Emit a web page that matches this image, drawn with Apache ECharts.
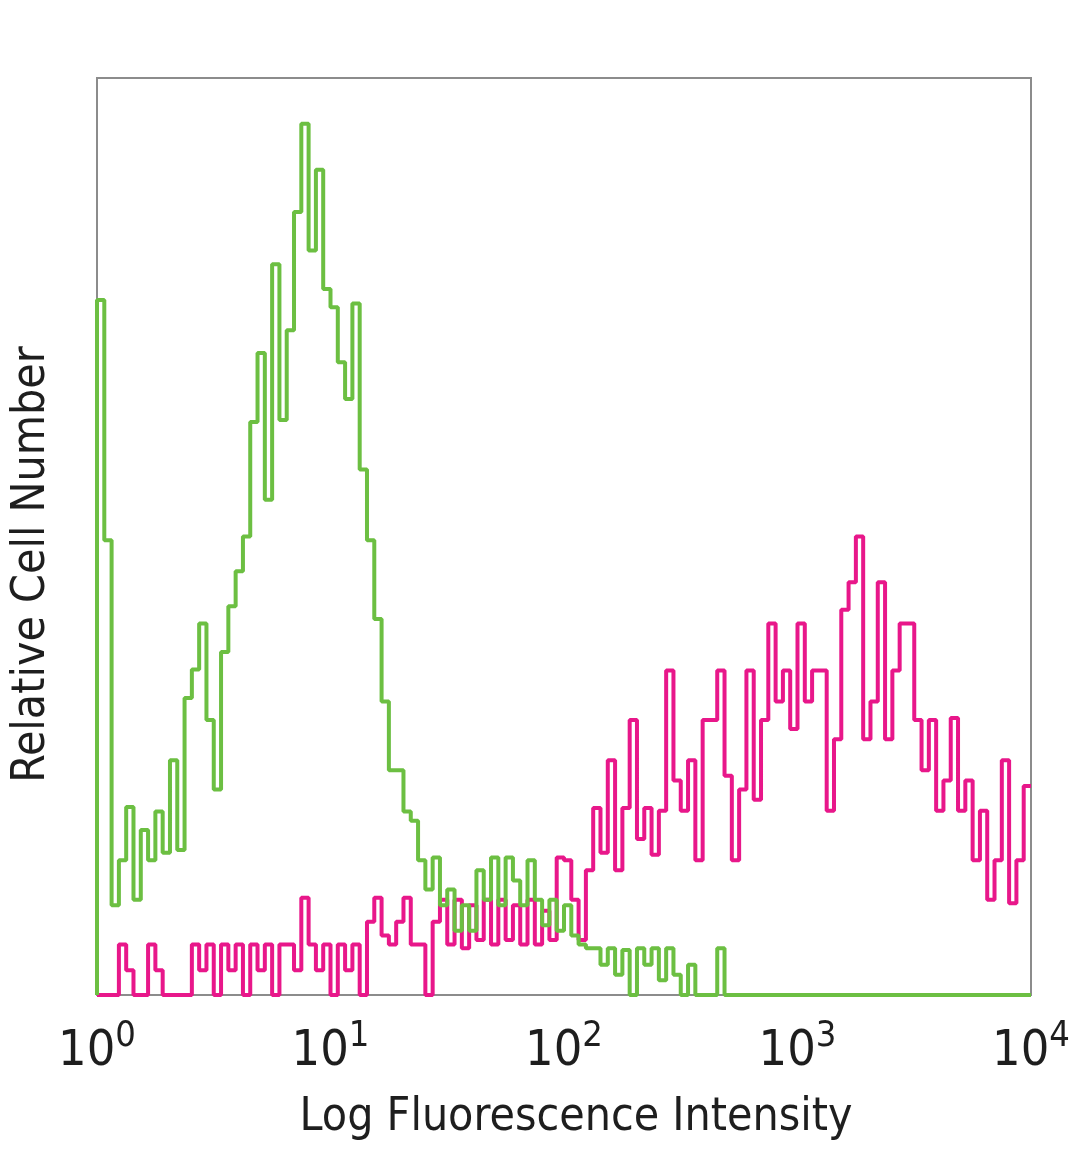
<!DOCTYPE html>
<html>
<head>
<meta charset="utf-8">
<script src="https://cdn.jsdelivr.net/npm/echarts@6/dist/echarts.min.js"></script>
<style>
  html, body { margin: 0; padding: 0; background: #ffffff; }
  #chart { width: 1080px; height: 1169px; }
</style>
</head>
<body>
<div id="chart"></div>
<script>
// Histogram channels: 128 bins spread over 4 log decades (32 bins per decade)
const binsPerDecade = 32;
const decadeExponents = [0, 1, 2, 3, 4];

// Relative cell number per channel (0-100 scale of the plot height)
const greenCounts = [
  75.8, 49.6, 9.8, 14.7, 20.5, 10.4, 18, 14.7, 20, 15.5,
  25.6, 15.8, 32.4, 35.5, 40.5, 30, 22.4, 37.4, 42.4, 46.2,
  50, 62.5, 70, 54, 79.7, 62.7, 72.5, 85.4, 95, 81.2,
  90, 77, 75, 69, 65, 75.4, 57.3, 49.6, 41, 32,
  24.5, 24.5, 20, 19, 14.7, 11.5, 15, 9.8, 11.5, 7,
  9.8, 7, 13.6, 10.4, 15, 9.8, 15, 12.5, 9.8, 14.7,
  10.4, 7.6, 10.4, 7, 9.8, 6.5, 5.5, 5.1, 5.1, 3.3,
  5.1, 2.2, 4.9, 0, 5.1, 3.3, 5.1, 1.6, 5.1, 2.2,
  0, 3.3, 0, 0, 0, 5.1, 0, 0, 0, 0,
  0, 0, 0, 0, 0, 0, 0, 0, 0, 0,
  0, 0, 0, 0, 0, 0, 0, 0, 0, 0,
  0, 0, 0, 0, 0, 0, 0, 0, 0, 0,
  0, 0, 0, 0, 0, 0, 0, 0
];

const magentaCounts = [
  0, 0, 0, 5.5, 2.7, 0, 0, 5.5, 2.7, 0,
  0, 0, 0, 5.5, 2.7, 5.5, 0, 5.5, 2.7, 5.5,
  0, 5.5, 2.7, 5.5, 0, 5.5, 5.5, 2.7, 10.6, 5.5,
  2.7, 5.5, 0, 5.5, 2.7, 5.5, 0, 8, 10.6, 6.5,
  5.5, 8, 10.6, 5.5, 5.5, 0, 8, 10.4, 5.5, 10.4,
  5.1, 9.8, 6, 10.4, 5.5, 10.4, 6, 9.8, 5.5, 10.4,
  5.5, 9.2, 6, 15, 14.7, 10.4, 6, 13.6, 20.4, 15.5,
  25.6, 13.6, 20.4, 30, 17, 20.4, 15.3, 20.1, 35.4, 23.4,
  20.1, 25.6, 14.7, 30, 30, 35.4, 23.9, 14.7, 22.4, 35.4,
  21.3, 30, 40.5, 32, 35.4, 29, 40.5, 32, 35.4, 35.4,
  20.1, 27.9, 42, 45, 50, 27.9, 32, 45, 27.9, 35.4,
  40.5, 40.5, 30, 24.5, 30, 20.1, 23.4, 30.2, 20.1, 23.4,
  14.7, 20.1, 10.4, 14.7, 25.6, 10, 14.7, 22.8
];

const xTitle = 'Log Fluorescence Intensity';
const yTitle = 'Relative Cell Number';

function toSteps(counts) {
  const pts = [[1, 0]];
  counts.forEach((v, i) => pts.push([Math.pow(10, i / binsPerDecade), v]));
  pts.push([Math.pow(10, counts.length / binsPerDecade), counts[counts.length - 1]]);
  return pts;
}

const fontFam = "'Liberation Sans Narrow', 'DejaVu Sans Condensed', 'Noto Sans', sans-serif";
const chart = echarts.init(document.getElementById('chart'), null, { renderer: 'canvas' });

chart.setOption({
  backgroundColor: '#ffffff',
  animation: false,
  grid: {
    left: 97, right: 49, top: 78, bottom: 174,
    outerBoundsMode: 'none',
    containLabel: false,
    show: true, borderColor: '#8c8c8c', borderWidth: 2, backgroundColor: 'transparent'
  },
  xAxis: {
    type: 'log',
    logBase: 10,
    min: Math.pow(10, decadeExponents[0]),
    max: Math.pow(10, decadeExponents[decadeExponents.length - 1]),
    splitNumber: 4,
    axisLine: { show: false },
    axisTick: { show: false },
    splitLine: { show: false },
    minorTick: { show: false },
    axisLabel: {
      show: true,
      showMinLabel: true,
      showMaxLabel: true,
      margin: 24,
      formatter: function (val) {
        const e = Math.round(Math.log10(val));
        return '{b|10}{s|' + e + '}';
      },
      rich: {
        b: { fontSize: 50, fontFamily: fontFam, color: '#1e1e1e' },
        s: { fontSize: 36, fontFamily: fontFam, color: '#1e1e1e', padding: [0, 0, 30, 0] }
      }
    },
    name: xTitle,
    nameLocation: 'middle',
    nameGap: 100,
    nameTextStyle: { fontSize: 46, fontFamily: fontFam, color: '#1e1e1e', padding: [0, 0, 0, 24] }
  },
  yAxis: {
    type: 'value',
    min: 0,
    max: 100,
    axisLine: { show: false },
    axisTick: { show: false },
    splitLine: { show: false },
    axisLabel: { show: false },
    name: yTitle,
    nameLocation: 'middle',
    nameRotate: 90,
    nameGap: 42,
    nameTextStyle: { fontSize: 46, fontFamily: fontFam, color: '#1e1e1e', padding: [0, 56, 0, 0] }
  },
  series: [
    {
      name: 'magenta',
      type: 'line',
      step: 'end',
      data: toSteps(magentaCounts),
      showSymbol: false,
      symbol: 'none',
      lineStyle: { color: '#e8178a', width: 4 },
      z: 2
    },
    {
      name: 'green',
      type: 'line',
      step: 'end',
      data: toSteps(greenCounts),
      showSymbol: false,
      symbol: 'none',
      lineStyle: { color: '#6cbf42', width: 4 },
      z: 3
    }
  ]
});
</script>
</body>
</html>
